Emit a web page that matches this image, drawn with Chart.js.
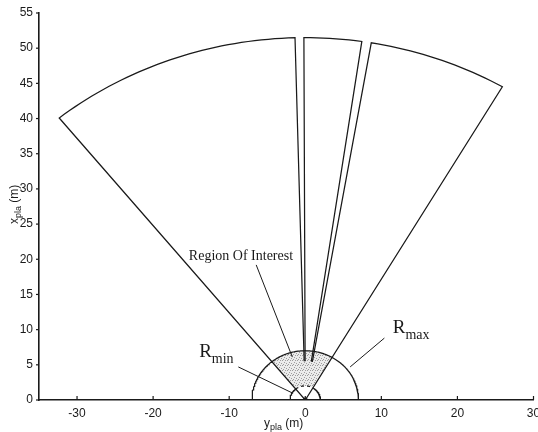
<!DOCTYPE html>
<html>
<head>
<meta charset="utf-8">
<script src="https://cdn.jsdelivr.net/npm/chart.js@4.4.1/dist/chart.umd.min.js"></script>
<style>
  html, body { margin: 0; padding: 0; background: #fff; }
  #wrap { width: 538px; height: 432px; }
</style>
</head>
<body>
<div id="wrap"><canvas id="fov" width="538" height="432"></canvas></div>
<script>
// sensor fields of view, degrees from the x_pla axis (positive towards +y_pla)
const wedgeAngles = [[-38.9, -1.5], [-0.2, 8.3], [9.7, 30.2]];
// range (m) where the two edges of each wedge begin
const wedgeEdgeStart = [[0, 5.5], [5.5, 5.5], [5.5, 0]];
const wedgeRange = 51.5;
const rMin = 2;
const rMax = 7;
const xTicks = [-30, -20, -10, 0, 10, 20, 30];
const yTicks = [0, 5, 10, 15, 20, 25, 30, 35, 40, 45, 50, 55];

const ink = "#1a1a1a";

const notes = [
  { main: "Region Of Interest", sub: "", x: -15.3, y: 19.9, size: 14, line: [[-6.45, 19.2], [-1.7, 6.1]] },
  { main: "R", sub: "min", x: -13.95, y: 6.1, size: 19, line: [[-8.8, 4.7], [-1.7, 1.0]] },
  { main: "R", sub: "max", x: 11.5, y: 9.5, size: 19, line: [[5.9, 4.7], [10.4, 8.8]] },
];

function polar(r, deg) {
  const a = (deg * Math.PI) / 180;
  return { x: r * Math.sin(a), y: r * Math.cos(a) };
}

function arc(r, a0, a1) {
  const n = Math.max(2, Math.ceil(Math.abs(a1 - a0)));
  const pts = [];
  for (let i = 0; i <= n; i++) pts.push(polar(r, a0 + ((a1 - a0) * i) / n));
  return pts;
}

function outline(data, extra = {}) {
  return Object.assign(
    {
      data,
      showLine: true,
      borderColor: ink,
      borderWidth: 1.25,
      pointRadius: 0,
      fill: false,
      tension: 0,
    },
    extra
  );
}

const sectorFrom = wedgeAngles[0][0];
const sectorTo = wedgeAngles[wedgeAngles.length - 1][1];

const ctx = document.getElementById("fov").getContext("2d");
const dotTile = document.createElement("canvas");
dotTile.width = 5;
dotTile.height = 5;
const tg = dotTile.getContext("2d");
tg.fillStyle = "#ebebeb";
tg.fillRect(0, 0, 5, 5);
tg.fillStyle = "#9c9c9c";
[[0, 0], [2, 0], [4, 2], [1, 3], [3, 4]].forEach(([x, y]) => tg.fillRect(x, y, 1, 1));
const stipple = ctx.createPattern(dotTile, "repeat");

const datasets = [];

wedgeAngles.forEach(([a0, a1], i) => {
  const [s0, s1] = wedgeEdgeStart[i];
  datasets.push(outline([polar(s0, a0), ...arc(wedgeRange, a0, a1), polar(s1, a1)]));
});

datasets.push(outline(arc(rMax, -90, 90)));
datasets.push(outline(arc(rMin, -90, sectorFrom)));
datasets.push(outline(arc(rMin, sectorTo, 90)));
datasets.push(outline(arc(rMin, sectorFrom, sectorTo), { borderDash: [3, 3] }));

notes.forEach((n) => {
  datasets.push(outline(n.line.map(([x, y]) => ({ x, y })), { borderWidth: 1 }));
});

datasets.push({
  data: [{ x: 0, y: 0 }],
  pointRadius: 2.5,
  backgroundColor: ink,
  borderWidth: 0,
});

datasets.push(
  outline([...arc(rMax, sectorFrom, sectorTo), ...arc(rMin, sectorTo, sectorFrom)], {
    borderWidth: 0,
    borderColor: "rgba(0,0,0,0)",
    backgroundColor: stipple,
    fill: "shape",
  })
);

function drawSubText(c, x, y, main, sub, rest, mainFont, subFont, drop) {
  c.font = mainFont;
  c.fillText(main, x, y);
  let w = c.measureText(main).width;
  if (sub) {
    c.font = subFont;
    c.fillText(sub, x + w, y + drop);
    w += c.measureText(sub).width;
  }
  if (rest) {
    c.font = mainFont;
    c.fillText(rest, x + w, y);
  }
}

const extras = {
  id: "extras",
  afterDraw(chart) {
    const c = chart.ctx;
    const { left, bottom } = chart.chartArea;
    const xs = chart.scales.x;
    const ys = chart.scales.y;
    c.save();
    c.strokeStyle = ink;
    c.lineWidth = 1.2;
    xTicks.forEach((v) => {
      const px = xs.getPixelForValue(v);
      c.beginPath();
      c.moveTo(px, bottom);
      c.lineTo(px, bottom - 4);
      c.stroke();
    });
    yTicks.forEach((v) => {
      const py = ys.getPixelForValue(v);
      c.beginPath();
      c.moveTo(left, py);
      c.lineTo(left - 3, py);
      c.stroke();
    });

    c.fillStyle = ink;
    c.textBaseline = "alphabetic";
    c.textAlign = "left";
    notes.forEach((n) => {
      const px = xs.getPixelForValue(n.x);
      const py = ys.getPixelForValue(n.y);
      drawSubText(
        c, px, py, n.main, n.sub, "",
        `${n.size}px "Liberation Serif", serif`,
        `14px "Liberation Serif", serif`,
        6
      );
    });

    // axis titles
    drawSubText(c, 264, 427, "y", "pla", " (m)", '12px "Liberation Sans", Arial', '9px "Liberation Sans", Arial', 3);
    c.translate(18, 224);
    c.rotate(-Math.PI / 2);
    drawSubText(c, 0, 0, "x", "pla", " (m)", '12px "Liberation Sans", Arial', '9px "Liberation Sans", Arial', 3);
    c.restore();
  },
};

function fixBox(size, key) {
  return (scale) => {
    scale[key] = size;
    scale.paddingLeft = 0;
    scale.paddingRight = 0;
    scale.paddingTop = 0;
    scale.paddingBottom = 0;
  };
}

const tickFont = { family: '"Liberation Sans", Arial, sans-serif', size: 12 };

new Chart(ctx, {
  type: "scatter",
  data: { datasets },
  plugins: [extras],
  options: {
    responsive: false,
    animation: false,
    devicePixelRatio: 1,
    layout: { padding: { top: 13, right: 4.5, bottom: 0, left: 0 } },
    plugins: { legend: { display: false }, tooltip: { enabled: false } },
    scales: {
      x: {
        type: "linear",
        min: -35,
        max: 30,
        afterBuildTicks: (s) => { s.ticks = xTicks.map((value) => ({ value })); },
        afterFit: fixBox(32, "height"),
        grid: { display: false, drawTicks: false },
        border: { display: true, color: ink, width: 1.6 },
        ticks: { color: ink, font: tickFont, padding: 6, maxRotation: 0, autoSkip: false },
      },
      y: {
        type: "linear",
        min: 0,
        max: 55,
        afterBuildTicks: (s) => { s.ticks = yTicks.map((value) => ({ value })); },
        afterFit: fixBox(39, "width"),
        grid: { display: false, drawTicks: false },
        border: { display: true, color: ink, width: 1.6 },
        ticks: { color: ink, font: tickFont, padding: 6, autoSkip: false },
      },
    },
  },
});
</script>
</body>
</html>
